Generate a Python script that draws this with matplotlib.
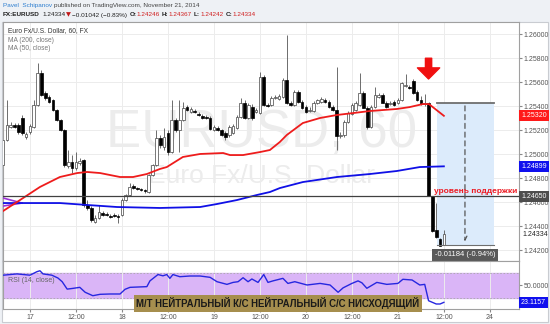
import numpy as np
import matplotlib
matplotlib.use("Agg")
import matplotlib.pyplot as plt
from matplotlib.patches import Rectangle
import matplotlib.transforms as mtrans

plt.rcParams['font.family'] = ['Liberation Sans', 'DejaVu Sans']

# ---- data (hourly EURUSD candles, bar 0 = Nov 17 00:00) ----
opens = [1.24910, 1.25118, 1.25227, 1.25243, 1.25243, 1.25302, 1.25143, 1.25185, 1.25227, 1.25410,
         1.25677, 1.25510, 1.25477, 1.25452, 1.25368, 1.25285, 1.25202, 1.24902, 1.24935, 1.24885,
         1.24927, 1.24952, 1.24577, 1.24552, 1.24435, 1.24468, 1.24510, 1.24502, 1.24485, 1.24493,
         1.24485, 1.24493, 1.24618, 1.24660, 1.24735, 1.24718, 1.24710, 1.24702, 1.24685, 1.24827,
         1.24910, 1.25135, 1.25060, 1.25177, 1.25018, 1.25285, 1.25202, 1.25285, 1.25393, 1.25352,
         1.25360, 1.25335, 1.25318, 1.25310, 1.25302, 1.25202, 1.25218, 1.25202, 1.25177, 1.25160,
         1.25177, 1.25218, 1.25310, 1.25427, 1.25302, 1.25393, 1.25352, 1.25343, 1.25643, 1.25410,
         1.25410, 1.25468, 1.25460, 1.25477, 1.25618, 1.25427, 1.25410, 1.25518, 1.25435, 1.25393,
         1.25360, 1.25360, 1.25427, 1.25435, 1.25452, 1.25435, 1.25393, 1.25368, 1.25152, 1.25160,
         1.25268, 1.25335, 1.25368, 1.25410, 1.25510, 1.25385, 1.25227, 1.25393, 1.25477, 1.25493,
         1.25427, 1.25418, 1.25435, 1.25427, 1.25452, 1.25568, 1.25560, 1.25610, 1.25518, 1.25452,
         1.25418, 1.25427, 1.24652, 1.24368, 1.24293, 1.24246]
highs = [1.25427, 1.25452, 1.25268, 1.25260, 1.25260, 1.25327, 1.25185, 1.25252, 1.25452, 1.25760,
         1.25702, 1.25527, 1.25493, 1.25460, 1.25377, 1.25293, 1.25210, 1.25035, 1.24993, 1.25018,
         1.24968, 1.24960, 1.24618, 1.24568, 1.24493, 1.24577, 1.24527, 1.24518, 1.24502, 1.24510,
         1.24502, 1.24635, 1.24668, 1.24760, 1.24752, 1.24727, 1.24718, 1.24710, 1.24835, 1.24918,
         1.25202, 1.25160, 1.25218, 1.25202, 1.25452, 1.25302, 1.25452, 1.25435, 1.25410, 1.25393,
         1.25377, 1.25352, 1.25335, 1.25327, 1.25318, 1.25243, 1.25235, 1.25210, 1.25193, 1.25243,
         1.25252, 1.25327, 1.25468, 1.25452, 1.25427, 1.25418, 1.25385, 1.25685, 1.25660, 1.25427,
         1.25485, 1.25493, 1.25502, 1.25635, 1.25993, 1.25443, 1.25535, 1.25535, 1.25452, 1.25410,
         1.25393, 1.25443, 1.25460, 1.25477, 1.25468, 1.25452, 1.25410, 1.25727, 1.25185, 1.25285,
         1.25360, 1.25427, 1.25443, 1.25677, 1.25527, 1.25402, 1.25410, 1.25560, 1.25510, 1.25510,
         1.25443, 1.25443, 1.25452, 1.25468, 1.25602, 1.25668, 1.25577, 1.25627, 1.25535, 1.25485,
         1.25502, 1.25435, 1.24652, 1.24593, 1.24302, 1.24367]
lows = [1.24902, 1.25110, 1.25218, 1.25218, 1.25168, 1.25160, 1.25127, 1.25168, 1.25218, 1.25402,
        1.25485, 1.25452, 1.25427, 1.25360, 1.25277, 1.25193, 1.24893, 1.24885, 1.24843, 1.24868,
        1.24910, 1.24560, 1.24535, 1.24435, 1.24427, 1.24460, 1.24485, 1.24485, 1.24468, 1.24477,
        1.24427, 1.24485, 1.24610, 1.24652, 1.24710, 1.24702, 1.24693, 1.24677, 1.24677, 1.24818,
        1.24902, 1.25052, 1.25035, 1.24993, 1.25010, 1.25185, 1.25018, 1.25277, 1.25360, 1.25343,
        1.25343, 1.25318, 1.25293, 1.25293, 1.25202, 1.25193, 1.25193, 1.25152, 1.25118, 1.25143,
        1.25168, 1.25210, 1.25302, 1.25293, 1.25293, 1.25285, 1.25343, 1.25335, 1.25402, 1.25393,
        1.25402, 1.25460, 1.25452, 1.25468, 1.25418, 1.25402, 1.25402, 1.25427, 1.25377, 1.25343,
        1.25352, 1.25352, 1.25418, 1.25427, 1.25427, 1.25385, 1.25360, 1.25035, 1.25135, 1.25143,
        1.25260, 1.25327, 1.25360, 1.25402, 1.25385, 1.25210, 1.25218, 1.25385, 1.25468, 1.25427,
        1.25385, 1.25410, 1.25402, 1.25418, 1.25443, 1.25560, 1.25543, 1.25502, 1.25443, 1.25410,
        1.25402, 1.24652, 1.24352, 1.24302, 1.24235, 1.24242]
closes = [1.25118, 1.25243, 1.25240, 1.25227, 1.25185, 1.25177, 1.25168, 1.25235, 1.25410, 1.25677,
          1.25493, 1.25468, 1.25435, 1.25368, 1.25285, 1.25202, 1.24910, 1.24935, 1.24885, 1.24935,
          1.24943, 1.24577, 1.24552, 1.24452, 1.24468, 1.24518, 1.24493, 1.24493, 1.24477, 1.24485,
          1.24477, 1.24618, 1.24660, 1.24727, 1.24718, 1.24710, 1.24702, 1.24693, 1.24827, 1.24910,
          1.25135, 1.25077, 1.25143, 1.25018, 1.25285, 1.25202, 1.25285, 1.25385, 1.25368, 1.25377,
          1.25352, 1.25327, 1.25302, 1.25302, 1.25210, 1.25227, 1.25202, 1.25160, 1.25143, 1.25227,
          1.25235, 1.25310, 1.25427, 1.25302, 1.25410, 1.25302, 1.25368, 1.25643, 1.25410, 1.25402,
          1.25468, 1.25477, 1.25485, 1.25618, 1.25427, 1.25410, 1.25518, 1.25435, 1.25385, 1.25352,
          1.25368, 1.25427, 1.25452, 1.25460, 1.25435, 1.25393, 1.25368, 1.25152, 1.25160, 1.25268,
          1.25343, 1.25410, 1.25427, 1.25510, 1.25385, 1.25227, 1.25393, 1.25493, 1.25493, 1.25427,
          1.25393, 1.25427, 1.25410, 1.25452, 1.25593, 1.25577, 1.25552, 1.25510, 1.25452, 1.25418,
          1.25427, 1.24652, 1.24360, 1.24310, 1.24235, 1.24334]
first_bar = -7

# moving averages, read at a few bars
ma50_bars = [-7.0, -2.6, 2.6, 7.8, 12.3, 14.9, 18.3, 23.5, 26.9, 30.5, 33.9, 35.7, 39.9, 44.4, 50.4,
             52.2, 55.6, 60.0, 62.6, 65.2, 67.0, 71.2, 75.7, 80.1, 84.3, 88.7, 95.7, 99.1, 102.5, 104.1, 108.0]
ma50_vals = [1.24527, 1.24618, 1.24727, 1.24810, 1.24843, 1.24852, 1.24843, 1.24810, 1.24810, 1.24835,
             1.24877, 1.24893, 1.24977, 1.25002, 1.25010, 1.24993, 1.24993, 1.25018, 1.25035, 1.25102,
             1.25160, 1.25260, 1.25302, 1.25327, 1.25343, 1.25360, 1.25377, 1.25393, 1.25418, 1.25418, 1.25320]
ma200_bars = [-7.0, -2.6, 7.8, 14.9, 22.7, 33.9, 44.4, 48.8, 54.0, 59.2, 62.6, 65.2, 71.2, 80.1, 88.7,
              95.7, 101.7, 108.0]
ma200_vals = [1.24593, 1.24593, 1.24593, 1.24577, 1.24560, 1.24552, 1.24560, 1.24585, 1.24618, 1.24660,
              1.24685, 1.24718, 1.24768, 1.24810, 1.24835, 1.24860, 1.24893, 1.24899]
extra_bars = [-7.0, -2.1]
extra_a = [1.24635, 1.24593]
extra_b = [1.24568, 1.24593]

support = 1.24650
measure_top, measure_bottom = 1.25426, 1.24242

rsi_bars = [-7.0, -3.4, 0.0, 1.8, 2.6, 3.4, 5.7, 7.3, 8.4, 9.7, 11.0, 13.0, 14.4, 16.4, 18.3, 20.9,
            23.5, 24.8, 26.1, 30.5, 31.3, 33.4, 34.7, 35.7, 36.5, 37.3, 39.1, 41.7, 44.4, 47.0, 48.8,
            51.4, 53.0, 54.3, 55.6, 56.9, 57.9, 59.5, 61.0, 62.1, 63.4, 66.0, 67.3, 69.1, 72.3, 75.7,
            78.3, 80.4, 81.7, 84.0, 85.6, 86.6, 87.9, 90.5, 93.1, 96.0, 97.3, 99.7, 101.7, 103.0,
            104.0, 106.0, 107.0, 108.0]
rsi_vals = [66, 68, 66, 71.5, 73, 68, 66, 61.5, 55.7, 44, 45, 46.8, 39, 33.6, 35.8, 36.3,
            36.3, 43.7, 46.8, 47.9, 57, 67, 65, 67, 61, 67, 63.6, 64.7, 64.7, 62.6, 55.7,
            51.5, 54.6, 55.7, 62, 55.7, 60, 54.6, 67, 54.6, 57, 61, 53, 55.7, 50.5, 53,
            50.5, 39, 46, 53, 57, 54, 45.3, 54.6, 51.5, 53, 59.5, 58.4, 50.5, 51.5,
            25.7, 20.5, 20.5, 23.1157]

price_ticks = [1.242, 1.244, 1.246, 1.248, 1.250, 1.252, 1.254, 1.256, 1.258, 1.260]
time_ticks = [0, 12, 24, 36, 48, 60, 72, 84, 96, 108, 120]
time_labels = ['17', '12:00', '18', '12:00', '19', '12:00', '20', '12:00', '21', '12:00', '24']

# ---- figure ----
W, H = 550, 324
fig = plt.figure(figsize=(W / 100, H / 100), dpi=100, facecolor='#eef1f5')


def fx(px):
    return px / W


def fy(py):
    return 1 - py / H


fig.patches.append(Rectangle((fx(2), fy(322)), 546 / W, 300 / H, transform=fig.transFigure,
                             facecolor='white', edgecolor='#c9ccd1', lw=0.8, zorder=-10))

ax = fig.add_axes([fx(3), fy(261), 516 / W, 239 / H])
rx = fig.add_axes([fx(3), fy(309), 516 / W, 48 / H], sharex=ax)

for a in (ax, rx):
    a.set_facecolor('white')
    for s in a.spines.values():
        s.set_color('#a0a0a0')
        s.set_linewidth(0.8)
    a.set_axisbelow(True)

ax.set_xlim(-7.04, 127.6)
ax.set_ylim(1.24110, 1.26102)

# watermark
ax.text(0.5, 0.535, 'EURUSD, 60', transform=ax.transAxes, ha='center', va='center',
        fontsize=38, color='#ececec', zorder=0)
ax.text(0.5, 0.355, 'Euro Fx/U.S. Dollar', transform=ax.transAxes, ha='center', va='center',
        fontsize=19, color='#ececec', zorder=0)

ax.grid(True, color='#ececec', lw=0.7)
rx.grid(True, axis='x', color='#ececec', lw=0.7)

# candles
bars = np.arange(first_bar, first_bar + len(opens))
o = np.array(opens)
c = np.array(closes)
up = c >= o
ax.vlines(bars, lows, highs, color='#555555', lw=0.6, zorder=2)
body_lo = np.minimum(o, c)
body_h = np.maximum(np.abs(c - o), 0.00002)
ax.bar(bars[up], body_h[up], bottom=body_lo[up], width=0.7, facecolor='white',
       edgecolor='#444444', lw=0.5, zorder=3)
ax.bar(bars[~up], body_h[~up], bottom=body_lo[~up], width=0.7, facecolor='black',
       edgecolor='black', lw=0.5, zorder=3)

# moving averages
ax.plot(extra_bars, extra_a, color='#9c33d6', lw=1.2, zorder=4)
ax.plot(extra_bars, extra_b, color='#9c33d6', lw=1.2, zorder=4)
ax.plot(ma200_bars, ma200_vals, color='#1010e6', lw=1.3, zorder=4)
ax.plot(ma50_bars, ma50_vals, color='#ee1c1c', lw=1.3, zorder=4)

# support line
ax.axhline(support, color='#404040', lw=0.9, zorder=4)
ax.text(105.4, support + 0.00012, 'уровень поддержки', color='#ec1c24', fontsize=6.0,
        fontweight='bold', ha='left', va='bottom', zorder=6)

# measure tool
mx0, mx1, mxc = 106.2, 121.0, 113.5
ax.add_patch(Rectangle((mx0, measure_bottom), mx1 - mx0, measure_top - measure_bottom,
                       facecolor='#dcebfb', edgecolor='none', zorder=1))
ax.plot([mx0, mx1], [measure_top, measure_top], color='#6e6e6e', lw=1.3, zorder=5)
ax.plot([mx0, mx1], [measure_bottom, measure_bottom], color='#6e6e6e', lw=0.8, zorder=5)
ax.annotate('', xy=(mxc, measure_bottom + 0.00008), xytext=(mxc, measure_top),
            arrowprops=dict(arrowstyle='->', color='#555555', lw=0.9, linestyle=(0, (4, 3)),
                            mutation_scale=7), zorder=5)
diff = measure_bottom - measure_top
ax.text(mxc, measure_bottom - 0.0008, f'{diff:.5f} ({diff / measure_top * 100:.2f}%)',
        ha='center', va='center', fontsize=5.5, color='white', zorder=7,
        bbox=dict(boxstyle='square,pad=0.35', fc='#595959', ec='none'))

# red arrow
ax.annotate('', xy=(104.0, 1.25627), xytext=(104.0, 1.25800),
            arrowprops=dict(facecolor='#f01010', edgecolor='#f01010', width=4.5,
                            headwidth=16, headlength=8, shrink=0), zorder=8)

# price axis
ax.yaxis.tick_right()
ax.set_yticks(price_ticks)
ax.set_yticklabels([f'{v:.5f}' for v in price_ticks])
ax.tick_params(axis='y', labelsize=5, labelcolor='#555555', color='#888888', length=2, pad=1.5)
ax.tick_params(axis='x', labelbottom=False, length=0)

ytrans = mtrans.blended_transform_factory(ax.transAxes, ax.transData)
for val, txt, bg in [(ma50_vals[-1], '1.25320', '#ff1a1a'), (ma200_vals[-1], '1.24899', '#1010ee'),
                     (support, '1.24650', '#4d4d4d')]:
    ax.text(1.004, val, txt, transform=ytrans, ha='left', va='center', fontsize=5,
            color='white', clip_on=False, zorder=9,
            bbox=dict(boxstyle='square,pad=0.3', fc=bg, ec='none'))
ax.text(1.0075, closes[-1], f'{closes[-1]:.5f}', transform=ytrans, ha='left',
        va='center', fontsize=5, color='#222222', clip_on=False, zorder=9)

# RSI pane
rx.set_ylim(12.6, 88.4)
rx.axhspan(30, 70, color='#dab5f7', zorder=0)
rx.axhline(70, color='#a9a9a9', lw=0.6, ls=(0, (2, 2)))
rx.axhline(30, color='#a9a9a9', lw=0.6, ls=(0, (2, 2)))
rx.plot(rsi_bars, rsi_vals, color='#2727e0', lw=1.0, zorder=3)
rx.yaxis.tick_right()
rx.set_yticks([50])
rx.set_yticklabels(['50.0000'])
rx.tick_params(axis='y', labelsize=5, labelcolor='#555555', color='#888888', length=2, pad=1.5)
rx.set_xticks(time_ticks)
rx.set_xticklabels(time_labels)
rx.tick_params(axis='x', labelsize=5, labelcolor='#555555', color='#888888', length=2, pad=1.5)
rtrans = mtrans.blended_transform_factory(rx.transAxes, rx.transData)
rx.text(1.004, rsi_vals[-1], f'{rsi_vals[-1]:.4f}', transform=rtrans, ha='left', va='center',
        fontsize=5, color='white', clip_on=False, zorder=9,
        bbox=dict(boxstyle='square,pad=0.3', fc='#1010ee', ec='none'))
rx.text(0.01, 0.6, 'RSI (14, close)', transform=rx.transAxes, fontsize=5, color='#666666',
        ha='left', va='center')

fig.text(fx(278), fy(303.5), 'М/Т НЕЙТРАЛЬНЫЙ К/С НЕЙТРАЛЬНЫЙ С/С НИСХОДЯЩИЙ', ha='center',
         va='center', fontsize=6.9, fontweight='bold', color='#1a1a1a', zorder=10,
         bbox=dict(boxstyle='square,pad=0.25', fc='#a68e4e', ec='none'))

# legend texts
fig.text(fx(8), fy(31), 'Euro Fx/U.S. Dollar, 60, FX', fontsize=4.8, color='#333333', va='center')
fig.text(fx(8), fy(40), 'MA (200, close)', fontsize=4.8, color='#777777', va='center')
fig.text(fx(8), fy(49), 'MA (50, close)', fontsize=4.8, color='#777777', va='center')

# header: pieces laid out one after another
renderer = fig.canvas.get_renderer()


def header_line(pieces, x0, y0, size):
    x = x0
    for txt, col, wt, gap in pieces:
        t = fig.text(fx(x), fy(y0), txt, fontsize=size, color=col, fontweight=wt, va='center',
                     family=['DejaVu Sans'] if txt == '▼' else None)
        bb = t.get_window_extent(renderer)
        x = x + bb.width + gap


header_line([('Pavel  Schipanov', '#2f7fd0', 'normal', 2),
             ('published on TradingView.com, November 21, 2014', '#444444', 'normal', 0)], 3, 6, 4.6)
header_line([('FX:EURUSD', '#222222', 'bold', 2.5), ('1.24334', '#222222', 'normal', 1),
             ('▼', '#c01818', 'normal', 1), ('−0.01042 (−0.83%)', '#222222', 'normal', 2),
             ('O:', '#222222', 'bold', 0.3), ('1.24246', '#d02020', 'normal', 2),
             ('H:', '#222222', 'bold', 0.3), ('1.24367', '#d02020', 'normal', 2),
             ('L:', '#222222', 'bold', 0.3), ('1.24242', '#d02020', 'normal', 2),
             ('C:', '#222222', 'bold', 0.3), ('1.24334', '#d02020', 'normal', 0)], 3, 15, 4.6)

fig.savefig('out.png', dpi=100, facecolor=fig.get_facecolor())
